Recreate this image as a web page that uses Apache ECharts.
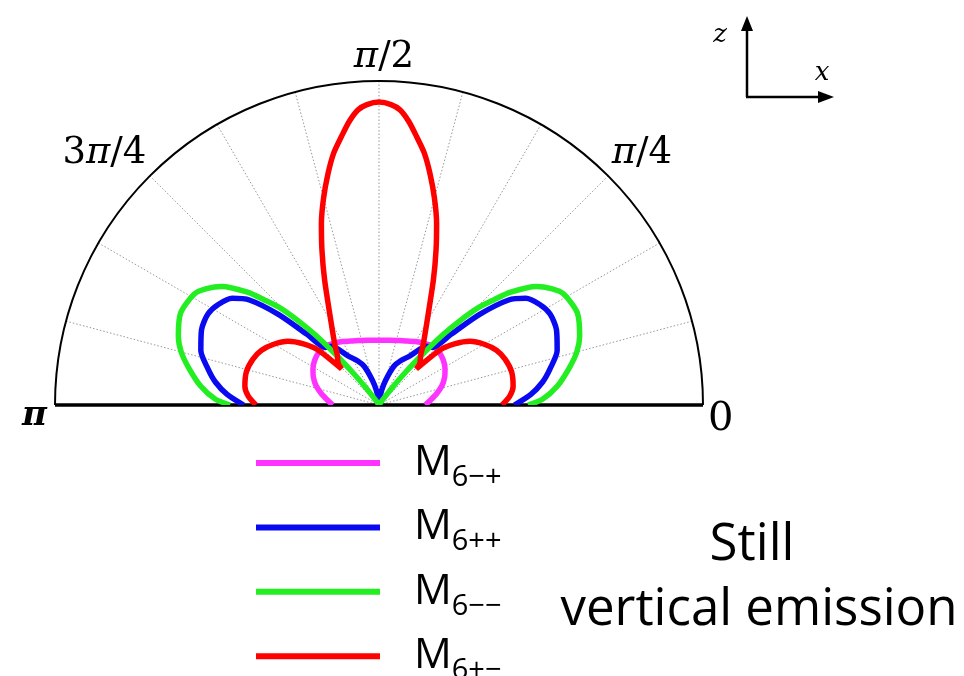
<!DOCTYPE html>
<html>
<head>
<meta charset="utf-8">
<style>
  html, body { margin: 0; padding: 0; background: #fff; }
  #chart { width: 964px; height: 676px; }
</style>
<script src="https://cdn.jsdelivr.net/npm/echarts@6/dist/echarts.min.js"></script>
</head>
<body>
<div id="chart"></div>
<script>
// Emission patterns of the four M6 modes, r(θ) over the upper half plane.
// Angles in degrees (0 = +x, 180 = −x), radii normalised to the outer circle.

const modeNames = ['M6−+', 'M6++', 'M6−−', 'M6+−'];
const modeColors = ['#ff33ff', '#0a0af0', '#22ee22', '#ff0000'];

// M6−+
const magentaAngles = [0, 6, 11, 17, 23, 29, 35, 41, 47, 53, 60, 66, 72, 80, 90,
  100, 108, 114, 120, 127, 133, 139, 145, 151, 157, 163, 169, 174, 180];
const magentaRadii = [0.143, 0.162, 0.181, 0.203, 0.22, 0.233, 0.242, 0.247, 0.247, 0.237, 0.226, 0.216, 0.209, 0.203, 0.2,
  0.203, 0.209, 0.216, 0.226, 0.237, 0.247, 0.247, 0.242, 0.233, 0.22, 0.203, 0.181, 0.162, 0.143];

// M6++
const blueAngles = [0, 4, 8, 12, 17, 23, 28, 32, 36, 39, 42, 44.5, 47, 51, 58, 64, 69, 75, 80, 85, 90,
  95, 100, 105, 111, 116, 122, 129, 133, 135.5, 138, 141, 144, 148, 152, 157, 163, 168, 172, 176, 180];
const blueRadii = [0.418, 0.47, 0.51, 0.54, 0.575, 0.595, 0.598, 0.585, 0.56, 0.515, 0.418, 0.31, 0.243, 0.233, 0.178, 0.152, 0.128, 0.079, 0.045, 0.015, 0,
  0.015, 0.045, 0.079, 0.128, 0.152, 0.178, 0.233, 0.243, 0.31, 0.418, 0.515, 0.56, 0.585, 0.598, 0.595, 0.575, 0.54, 0.51, 0.47, 0.418];

// M6−−
const greenAngles = [0, 2, 6, 11, 15, 19, 25, 31, 34, 37, 40.6, 42.5, 44.6, 46.2, 47.7, 49.5, 51, 52.5, 54, 57, 62, 90,
  118, 123, 126, 127.5, 129, 130.5, 132.3, 133.8, 135.4, 137.5, 139.4, 143, 146, 149, 155, 161, 165, 169, 174, 178, 180];
const greenRadii = [0.46, 0.505, 0.553, 0.598, 0.632, 0.655, 0.675, 0.665, 0.642, 0.608, 0.535, 0.48, 0.424, 0.36, 0.294, 0.2, 0.13, 0.07, 0.03, 0.008, 0, 0,
  0, 0.008, 0.03, 0.07, 0.13, 0.2, 0.294, 0.36, 0.424, 0.48, 0.535, 0.608, 0.642, 0.665, 0.675, 0.655, 0.632, 0.598, 0.553, 0.505, 0.46];

// M6+−
const redAngles = [0, 4, 8, 14, 20, 25, 30, 35, 39, 42, 44, 45.5, 50, 53.7, 59.7, 66.5, 69.8, 72.4, 75, 77.6, 79.8, 82, 84, 85.9, 87.7, 90,
  92.3, 94.1, 96, 98, 100.2, 102.4, 105, 107.6, 110.2, 113.5, 120.3, 126.3, 130, 134.5, 136, 138, 141, 145, 150, 155, 160, 166, 172, 176, 180];
const redRadii = [0.38, 0.405, 0.418, 0.422, 0.414, 0.4, 0.375, 0.343, 0.3, 0.255, 0.16, 0.18, 0.2, 0.23, 0.292, 0.421, 0.51, 0.588, 0.661, 0.732, 0.79, 0.836, 0.88, 0.913, 0.928, 0.935,
  0.928, 0.913, 0.88, 0.836, 0.79, 0.732, 0.661, 0.588, 0.51, 0.421, 0.292, 0.23, 0.2, 0.18, 0.16, 0.255, 0.3, 0.343, 0.375, 0.4, 0.414, 0.422, 0.418, 0.405, 0.38];

// Angle tick labels (every 45°); grid spokes every 15°
const angleLabels = {
  0: '{lo|0}',
  45: '{pi|π}{n|/4}',
  90: '{pitop|π}{n|/2}',
  135: '{n|3}{pi|π}{n|/4}',
  180: '{lopi|π}'
};

const modeAngles = [magentaAngles, blueAngles, greenAngles, redAngles];
const modeRadii = [magentaRadii, blueRadii, greenRadii, redRadii];

const serifFont = 'DejaVu Serif';
const sansFont = 'Open Sans';

const chart = echarts.init(document.getElementById('chart'), null, { renderer: 'canvas' });

const option = {
  animation: false,
  backgroundColor: '#fff',
  polar: [
    { center: [379, 405], radius: 324 },
    { center: [379, 405], radius: 324 }
  ],
  angleAxis: [
    {
      polarIndex: 0,
      type: 'value',
      min: 0, max: 180, interval: 15,
      startAngle: 0, endAngle: 180, clockwise: false,
      axisLine: { lineStyle: { color: '#000', width: 2 } },
      axisTick: { show: false },
      splitLine: { show: true, lineStyle: { color: '#999', width: 1, type: [1.5, 2] } },
      axisLabel: {
        margin: 5,
        formatter: v => angleLabels[Math.round(v)] || '',
        rich: {
          n: { fontFamily: serifFont, fontSize: 37, color: '#000' },
          pi: { fontFamily: serifFont, fontSize: 37, fontStyle: 'italic', color: '#000' },
          pitop: { fontFamily: serifFont, fontSize: 37, fontStyle: 'italic', color: '#000', padding: [0, 0, 0, 10] },
          lo: { fontFamily: serifFont, fontSize: 40, color: '#000', padding: [30, 0, 0, 0] },
          lopi: { fontFamily: serifFont, fontSize: 34, fontStyle: 'italic', fontWeight: 'bold', color: '#000', padding: [22, 3, 0, 0] }
        }
      }
    },
    {
      // solid base line from π to 0
      polarIndex: 1,
      type: 'value',
      min: 0, max: 180, interval: 180,
      startAngle: 0, endAngle: 180, clockwise: false,
      axisLine: { show: false },
      axisTick: { show: false },
      axisLabel: { show: false },
      splitLine: { show: true, lineStyle: { color: '#000', width: 3.5 } }
    }
  ],
  radiusAxis: [
    { polarIndex: 0, min: 0, max: 1, axisLine: { show: false }, axisTick: { show: false }, axisLabel: { show: false }, splitLine: { show: false } },
    { polarIndex: 1, min: 0, max: 1, axisLine: { show: false }, axisTick: { show: false }, axisLabel: { show: false }, splitLine: { show: false } }
  ],
  legend: {
    orient: 'vertical',
    left: 256,
    top: 442,
    height: 400,
    padding: 0,
    itemWidth: 124,
    itemHeight: 6,
    itemGap: 14.4,
    icon: 'rect',
    selectedMode: false,
    data: modeNames,
    formatter: name => '{m|' + name.slice(0, 1) + '}{s|' + name.slice(1) + '}',
    textStyle: {
      rich: {
        m: { fontFamily: sansFont, fontSize: 42, lineHeight: 58, color: '#000', padding: [0, 0, 0, 29] },
        s: { fontFamily: sansFont, fontSize: 29, lineHeight: 58, verticalAlign: 'bottom', color: '#000' }
      }
    }
  },
  series: modeNames.map((name, i) => ({
    name: name,
    type: 'line',
    coordinateSystem: 'polar',
    polarIndex: 0,
    symbol: 'none',
    smooth: 0.25,
    lineStyle: { color: modeColors[i], width: 5.5 },
    itemStyle: { color: modeColors[i] },
    data: modeAngles[i].map((a, k) => [modeRadii[i][k], a])
  })),
  graphic: [
    // z / x direction marker
    { type: 'line', shape: { x1: 747, y1: 97, x2: 747, y2: 28 }, style: { stroke: '#000', lineWidth: 2.5 } },
    { type: 'polygon', shape: { points: [[747, 16], [741, 31], [753, 31]] }, style: { fill: '#000' } },
    { type: 'line', shape: { x1: 746, y1: 97, x2: 821, y2: 97 }, style: { stroke: '#000', lineWidth: 2.5 } },
    { type: 'polygon', shape: { points: [[834, 97], [818, 91], [818, 103]] }, style: { fill: '#000' } },
    { type: 'text', x: 720, y: 35, style: { text: 'z', font: 'italic 26px "DejaVu Serif"', fill: '#000', align: 'center', verticalAlign: 'middle' } },
    { type: 'text', x: 822, y: 73, style: { text: 'x', font: 'italic 26px "DejaVu Serif"', fill: '#000', align: 'center', verticalAlign: 'middle' } },
    // caption
    { type: 'text', x: 752, y: 545, style: { text: 'Still', font: '51px "Open Sans"', fill: '#000', align: 'center', verticalAlign: 'middle' } },
    { type: 'text', x: 759, y: 610, style: { text: 'vertical emission', font: '51px "Open Sans"', fill: '#000', align: 'center', verticalAlign: 'middle' } }
  ]
};

chart.setOption(option);
</script>
</body>
</html>
